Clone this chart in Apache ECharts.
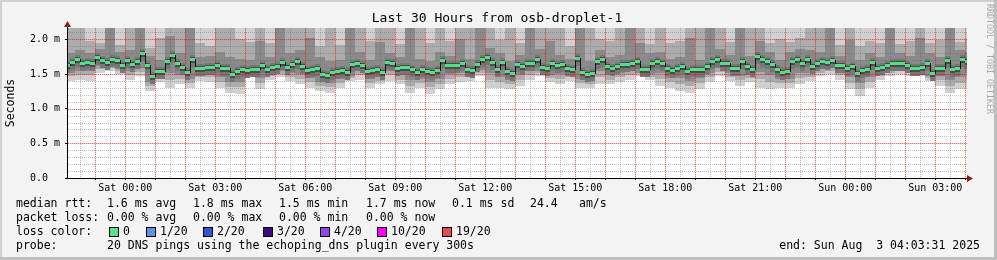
<!DOCTYPE html>
<html><head><meta charset="utf-8">
<script src="https://cdn.jsdelivr.net/npm/echarts@6/dist/echarts.min.js"></script>
<style>html,body{margin:0;padding:0;background:#f3f3f3}#c{width:997px;height:260px}</style>
</head><body><div id="c"></div><script>
// time axis in hours since Fri 00:00
const START_HOUR = 22;              // first data step starts Fri 22:00
const MEDIAN_STEP_H = 1 / 6;        // 10 min
const SMOKE_STEP_H = 1 / 3;         // 20 min
const X_MIN = 22 + 3 / 60 + 31 / 3600;   // Fri 22:03:31
const X_MAX = X_MIN + 30;                // Sun 04:03:31
const Y_MAX = 2.163;

// median RTT (ms), one value per 10 min
const medianRtt = [
1.625,1.673,1.711,1.663,1.668,1.653,1.745,1.702,1.677,1.721,
1.702,1.625,1.706,1.649,1.682,1.798,1.625,1.471,1.543,1.548,
1.682,1.778,1.663,1.605,1.528,1.711,1.591,1.591,1.605,1.601,
1.629,1.591,1.591,1.495,1.543,1.577,
1.553,1.567,1.567,1.625,1.577,1.605,1.615,1.673,1.605,1.639,
1.692,1.615,1.557,1.577,1.591,1.495,1.480,1.528,1.538,1.557,
1.528,1.639,1.663,1.634,1.543,1.557,1.567,1.528,1.673,1.663,
1.586,1.605,1.605,1.567,1.528,1.567,
1.543,1.528,1.553,1.697,1.625,1.625,1.625,1.663,1.577,1.557,
1.639,1.721,1.750,1.673,1.567,1.673,1.543,1.509,1.644,1.615,
1.663,1.663,1.721,1.605,1.586,1.663,1.625,1.639,1.586,1.577,
1.735,1.528,1.495,1.519,1.687,1.711,
1.615,1.581,1.615,1.639,1.639,1.663,1.692,1.567,1.567,1.663,
1.682,1.663,1.591,1.553,1.591,1.615,1.538,1.567,1.567,1.567,
1.615,1.692,1.721,1.663,1.653,1.591,1.591,1.687,1.615,1.567,
1.759,1.721,1.682,1.639,1.567,1.528,
1.543,1.687,1.721,1.653,1.721,1.615,1.653,1.692,1.673,1.702,
1.634,1.625,1.591,1.615,1.519,1.553,1.577,1.673,1.591,1.605,
1.629,1.653,1.663,1.653,1.625,1.591,1.591,1.605,1.663,1.519,
1.591,1.582,1.697,1.567,1.591,1.711,1.687];

// smoke (ping spread, ms), one value per 20 min
const smokeLow = [
1.40,1.42,1.40,1.52,1.54,1.50,1.42,1.47,1.26,1.38,1.30,1.35,1.30,1.40,1.38,1.30,1.23,1.21,
1.45,1.28,1.42,1.45,1.40,1.35,1.30,1.26,1.23,1.30,1.40,1.42,1.30,1.35,1.40,1.35,1.23,1.30,
1.21,1.28,1.35,1.38,1.40,1.47,1.30,1.30,1.28,1.33,1.42,1.47,1.38,1.35,1.40,1.30,1.30,1.35,
1.35,1.38,1.42,1.47,1.42,1.33,1.30,1.26,1.23,1.28,1.38,1.47,1.40,1.33,1.38,1.30,1.28,1.30,
1.30,1.35,1.40,1.47,1.50,1.42,1.28,1.18,1.30,1.42,1.47,1.50,1.47,1.47,1.40,1.33,1.23,1.28,1.30];
const smokeLowMid = [
1.47,1.49,1.48,1.57,1.58,1.54,1.49,1.53,1.32,1.43,1.41,1.43,1.37,1.46,1.45,1.39,1.31,1.31,
1.48,1.37,1.47,1.50,1.46,1.43,1.38,1.33,1.31,1.37,1.44,1.48,1.37,1.40,1.48,1.42,1.33,1.37,
1.31,1.36,1.43,1.45,1.45,1.52,1.41,1.38,1.35,1.42,1.49,1.51,1.44,1.43,1.45,1.37,1.36,1.45,
1.42,1.45,1.49,1.50,1.46,1.43,1.38,1.36,1.32,1.37,1.45,1.53,1.46,1.41,1.44,1.43,1.39,1.37,
1.37,1.44,1.46,1.52,1.55,1.48,1.37,1.28,1.38,1.47,1.52,1.55,1.51,1.51,1.44,1.41,1.33,1.37,1.42];
const smokeLowDark = [
1.52,1.55,1.54,1.62,1.62,1.57,1.55,1.59,1.38,1.47,1.51,1.49,1.43,1.51,1.50,1.46,1.38,1.39,
1.51,1.44,1.51,1.54,1.51,1.50,1.44,1.39,1.37,1.43,1.47,1.54,1.43,1.45,1.54,1.48,1.42,1.43,
1.38,1.43,1.50,1.51,1.49,1.56,1.51,1.45,1.41,1.49,1.55,1.54,1.49,1.50,1.50,1.43,1.41,1.54,
1.48,1.51,1.54,1.52,1.50,1.51,1.44,1.44,1.40,1.44,1.51,1.58,1.51,1.47,1.48,1.53,1.48,1.43,
1.43,1.52,1.52,1.57,1.60,1.53,1.45,1.37,1.45,1.51,1.56,1.58,1.54,1.54,1.47,1.47,1.42,1.45,1.51];
const smokeHighDark = [
1.80,1.84,1.80,1.86,2.30,1.82,1.84,2.30,1.76,1.70,2.05,1.80,2.30,1.74,1.76,1.82,1.75,1.72,
1.70,1.98,1.74,2.30,1.80,1.84,2.02,1.74,1.68,1.70,2.30,1.82,1.70,1.96,1.80,1.74,2.30,1.72,
1.68,1.82,1.76,2.00,1.72,2.30,1.88,1.80,1.68,1.78,2.30,1.86,1.98,1.78,1.72,2.30,1.68,1.84,
1.74,1.78,2.30,1.95,1.80,1.82,1.72,1.74,2.02,1.70,2.30,1.86,1.78,2.30,1.76,1.97,1.82,1.70,
1.82,1.86,1.84,1.82,2.30,1.76,1.99,1.70,1.80,1.74,2.30,1.80,1.76,2.02,1.80,1.74,2.30,1.84,1.82];
const smokeHighMid = [
2.30,2.30,1.98,1.95,2.30,1.92,2.30,2.30,1.88,2.02,2.30,2.30,2.30,1.95,1.90,2.30,2.30,2.00,
1.96,2.30,1.94,2.30,2.30,2.30,2.30,1.90,2.30,1.92,2.30,2.30,1.98,2.30,2.30,1.93,2.30,2.30,
1.95,2.30,1.97,2.30,2.30,2.30,2.30,1.99,2.30,1.94,2.30,2.30,2.30,2.30,1.90,2.30,2.30,2.00,
1.97,2.30,2.30,2.30,1.93,2.30,1.95,1.98,2.30,2.30,2.30,2.30,1.96,2.30,2.30,2.30,1.94,2.00,
1.96,2.02,2.30,2.30,2.30,1.92,2.30,1.90,1.97,1.95,2.30,1.93,1.98,2.30,1.95,1.99,2.30,1.96,2.00];

// ticks and labels
const xMajorTicks = [23,24,25,26,27,28,29,30,31,32,33,34,35,36,37,38,39,40,41,42,43,44,45,46,47,48,49,50,51,52];
const xMinorTicks = [22.5,23.5,24.5,25.5,26.5,27.5,28.5,29.5,30.5,31.5,32.5,33.5,34.5,35.5,36.5,37.5,38.5,39.5,40.5,41.5,42.5,43.5,44.5,45.5,46.5,47.5,48.5,49.5,50.5,51.5];
const xLabelHours = [24,27,30,33,36,39,42,45,48,51];
const xLabelTexts = ['Sat 00:00','Sat 03:00','Sat 06:00','Sat 09:00','Sat 12:00','Sat 15:00','Sat 18:00','Sat 21:00','Sun 00:00','Sun 03:00'];
const yMajorTicks = [0,0.5,1,1.5,2];
const yLabelTexts = ['0.0  ','0.5 m','1.0 m','1.5 m','2.0 m'];
const yMinorTicks = [0.1,0.2,0.3,0.4,0.6,0.7,0.8,0.9,1.1,1.2,1.3,1.4,1.6,1.7,1.8,1.9,2.1];

const lossLabels = ['0','1/20','2/20','3/20','4/20','10/20','19/20'];
const lossColors = ['#55e08a','#5d95ea','#2b58d0','#3e0a80','#9243ef','#ff00ff','#ef4848'];

const MONO = '"DejaVu Sans Mono"';
const GREEN = '#50e088';
const SMOKE_COLORS = ['#d0d0d0','#acacac','#8a8a8a'];
const RED_DOT = 'rgba(255,0,0,0.5)';
const RED_UNDER = 'rgba(255,0,0,0.16)';
const GRAY_GRID = 'rgba(100,100,100,0.4)';

function rectIn(params, api, t0, t1, lo, hi, fill) {
  const a = api.coord([t0, hi]), b = api.coord([t1, lo]);
  const cs = params.coordSys;
  const x0 = Math.max(Math.round(a[0]), cs.x), x1 = Math.min(Math.round(b[0]), cs.x + cs.width);
  const y0 = Math.max(Math.round(a[1]), cs.y), y1 = Math.min(Math.round(b[1]), cs.y + cs.height);
  if (x1 <= x0 || y1 <= y0) return null;
  return {type: 'rect', shape: {x: x0, y: y0, width: x1 - x0, height: y1 - y0}, style: {fill}};
}

const smokeData = smokeLow.map((v, k) => [START_HOUR + k * SMOKE_STEP_H, START_HOUR + (k + 1) * SMOKE_STEP_H,
  v, smokeLowMid[k], smokeLowDark[k], smokeHighDark[k], smokeHighMid[k]]);
const medianData = medianRtt.map((v, i) => [START_HOUR + i * MEDIAN_STEP_H, START_HOUR + (i + 1) * MEDIAN_STEP_H,
  v, i > 0 ? medianRtt[i - 1] : v]);

// all dotted grid lines in one custom series item, placed through the axis scales
function renderGrid(params, api) {
  const cs = params.coordSys;
  const children = [];
  const top = Math.round(cs.y), bottom = Math.round(cs.y + cs.height);
  const left = Math.round(cs.x), right = Math.round(cs.x + cs.width);
  const vLine = (h, color, under) => {
    const x = Math.round(api.coord([h, 0])[0]);
    if (x < left || x >= right) return;
    if (under) children.push({type: 'rect', shape: {x, y: top, width: 1, height: bottom - top}, style: {fill: under}});
    for (let y = top; y < bottom; y += 2) {
      children.push({type: 'rect', shape: {x, y, width: 1, height: 1}, style: {fill: color}});
    }
  };
  const hLine = (v, color, under) => {
    const y = Math.round(api.coord([X_MIN, v])[1]);
    if (under) children.push({type: 'rect', shape: {x: left, y, width: right - left, height: 1}, style: {fill: under}});
    for (let x = left + 1; x < right; x += 2) {
      children.push({type: 'rect', shape: {x, y, width: 1, height: 1}, style: {fill: color}});
    }
  };
  yMinorTicks.forEach(v => hLine(v, GRAY_GRID, null));
  xMinorTicks.forEach(h => vLine(h, GRAY_GRID, null));
  yMajorTicks.forEach(v => hLine(v, RED_DOT, RED_UNDER));
  xMajorTicks.forEach(h => vLine(h, RED_DOT, RED_UNDER));
  return {type: 'group', children};
}

const chart = echarts.init(document.getElementById('c'), null, {renderer: 'canvas'});

const graphics = [
  {type: 'rect', shape: {x: 0, y: 0, width: 997, height: 2}, style: {fill: '#d0d0d0'}, silent: true},
  {type: 'rect', shape: {x: 0, y: 0, width: 2, height: 260}, style: {fill: '#d0d0d0'}, silent: true},
  {type: 'rect', shape: {x: 0, y: 257, width: 997, height: 3}, style: {fill: '#bfbfbf'}, silent: true},
  {type: 'rect', shape: {x: 994, y: 0, width: 3, height: 260}, style: {fill: '#bfbfbf'}, silent: true},
  {type: 'text', x: 497, y: 19, style: {text: 'Last 30 Hours from osb-droplet-1', font: '13px ' + MONO, fill: '#000', textAlign: 'center', align: 'center', textVerticalAlign: 'middle', verticalAlign: 'middle'}},
  {type: 'text', x: 11, y: 103, rotation: Math.PI / 2, style: {text: 'Seconds', font: '11.5px ' + MONO, fill: '#000', textAlign: 'center', align: 'center', textVerticalAlign: 'middle', verticalAlign: 'middle'}},
  {type: 'text', x: 989, y: 59, rotation: -Math.PI / 2, style: {text: 'RRDTOOL / TOBI OETIKER', font: '8.3px ' + MONO, fill: '#a8a8a8', textAlign: 'center', align: 'center', textVerticalAlign: 'middle', verticalAlign: 'middle'}},
  {type: 'rect', shape: {x: 67, y: 25, width: 1, height: 3}, style: {fill: '#000'}, z: 10},
  {type: 'polygon', shape: {points: [[64, 27], [71, 27], [67.5, 21]]}, style: {fill: '#8b1c1c'}, z: 10},
  {type: 'rect', shape: {x: 966, y: 178, width: 2, height: 1}, style: {fill: '#000'}, z: 10},
  {type: 'polygon', shape: {points: [[967, 175], [967, 182], [973, 178.5]]}, style: {fill: '#8b1c1c'}, z: 10}
];
function legendText(x, y, text, align) {
  graphics.push({type: 'text', x, y, style: {text, font: '11.5px ' + MONO, fill: '#000', textAlign: align || 'left', align: align || 'left', textVerticalAlign: 'middle', verticalAlign: 'middle'}});
}
legendText(16, 204, 'median rtt:');
legendText(107, 204, '1.6 ms avg');
legendText(193, 204, '1.8 ms max');
legendText(279, 204, '1.5 ms min');
legendText(366, 204, '1.7 ms now');
legendText(452, 204, '0.1 ms sd');
legendText(530, 204, '24.4');
legendText(579, 204, 'am/s');
legendText(16, 218, 'packet loss:');
legendText(107, 218, '0.00 % avg');
legendText(193, 218, '0.00 % max');
legendText(279, 218, '0.00 % min');
legendText(366, 218, '0.00 % now');
legendText(16, 232, 'loss color:');
const boxX = [109, 146, 203, 263, 320, 377, 442];
lossLabels.forEach((lab, i) => {
  graphics.push({type: 'rect', shape: {x: boxX[i], y: 227, width: 10, height: 10}, style: {fill: '#000'}});
  graphics.push({type: 'rect', shape: {x: boxX[i] + 1, y: 228, width: 8, height: 8}, style: {fill: lossColors[i]}});
  legendText(boxX[i] + 14, 232, lab);
});
legendText(16, 246, 'probe:');
legendText(107, 246, '20 DNS pings using the echoping_dns plugin every 300s');
legendText(980, 246, 'end: Sun Aug  3 04:03:31 2025', 'right');

chart.setOption({
  backgroundColor: '#f3f3f3',
  animation: false,
  grid: {left: 67, right: 30, top: 28, bottom: 82, show: true, backgroundColor: '#ffffff', borderWidth: 0},
  xAxis: {
    type: 'value', min: X_MIN, max: X_MAX, position: 'bottom', z: 6,
    axisLine: {show: true, onZero: false, lineStyle: {color: '#000', width: 1}},
    axisTick: {show: true, customValues: xMajorTicks, length: 2, lineStyle: {color: '#000'}},
    axisLabel: {customValues: xLabelHours, margin: 5, fontFamily: 'DejaVu Sans Mono', fontSize: 10, color: '#000',
      formatter: v => { const i = xLabelHours.findIndex(h => Math.abs(h - v) < 1e-6); return i >= 0 ? xLabelTexts[i] : ''; }},
    splitLine: {show: false}
  },
  yAxis: {
    type: 'value', min: 0, max: Y_MAX, position: 'left', z: 6,
    axisLine: {show: true, onZero: false, lineStyle: {color: '#000', width: 1}},
    axisTick: {show: true, customValues: yMajorTicks, length: 2, lineStyle: {color: '#000'}},
    axisLabel: {customValues: yMajorTicks, margin: 7, fontFamily: 'DejaVu Sans Mono', fontSize: 10, color: '#000',
      formatter: v => { const i = yMajorTicks.findIndex(h => Math.abs(h - v) < 1e-6); return i >= 0 ? yLabelTexts[i] : ''; }},
    splitLine: {show: false}
  },
  series: [{
    name: 'smoke', type: 'custom', z: 1, silent: true,
    data: smokeData,
    renderItem: (params, api) => {
      const t0 = api.value(0), t1 = api.value(1);
      const bands = [[api.value(2), 2.5, SMOKE_COLORS[0]], [api.value(3), api.value(6), SMOKE_COLORS[1]], [api.value(4), api.value(5), SMOKE_COLORS[2]]];
      return {type: 'group', children: bands.map(b => rectIn(params, api, t0, t1, b[0], b[1], b[2])).filter(Boolean)};
    }
  }, {
    name: 'core', type: 'custom', z: 2, silent: true,
    data: medianData,
    renderItem: (params, api) => {
      const t0 = api.value(0), t1 = api.value(1), v = api.value(2);
      const a = api.coord([t0, v]), b = api.coord([t1, v]);
      const cs = params.coordSys;
      const x0 = Math.max(Math.round(a[0]), cs.x), x1 = Math.min(Math.round(b[0]), cs.x + cs.width);
      if (x1 <= x0) return null;
      const y = Math.round(a[1]);
      return {type: 'group', children: [
        {type: 'rect', shape: {x: x0, y: y - 4, width: x1 - x0, height: 12}, style: {fill: '#777777'}},
        {type: 'rect', shape: {x: x0, y: y - 2, width: x1 - x0, height: 6}, style: {fill: '#4a4a4a'}}
      ]};
    }
  }, {
    name: 'grid', type: 'custom', z: 3, silent: true,
    data: [[X_MIN, 0]],
    renderItem: renderGrid
  }, {
    name: 'median rtt', type: 'custom', z: 5, silent: true,
    data: medianData,
    renderItem: (params, api) => {
      const t0 = api.value(0), t1 = api.value(1), v = api.value(2), pv = api.value(3);
      const a = api.coord([t0, v]), b = api.coord([t1, v]), p = api.coord([t0, pv]);
      const cs = params.coordSys;
      const xr = Math.round(a[0]);
      const x0 = Math.max(xr, cs.x), x1 = Math.min(Math.round(b[0]), cs.x + cs.width);
      if (x1 <= x0) return null;
      const y = Math.round(a[1]), py = Math.round(p[1]);
      const children = [];
      if (py !== y && xr >= cs.x) {
        children.push({type: 'rect', shape: {x: x0, y: Math.min(py, y), width: 1, height: Math.abs(py - y) + 1}, style: {fill: '#111111'}});
      }
      children.push({type: 'rect', shape: {x: x0, y: y - 1, width: x1 - x0, height: 3}, style: {fill: GREEN}});
      return {type: 'group', children};
    }
  }],
  graphic: graphics
});
</script></body></html>
